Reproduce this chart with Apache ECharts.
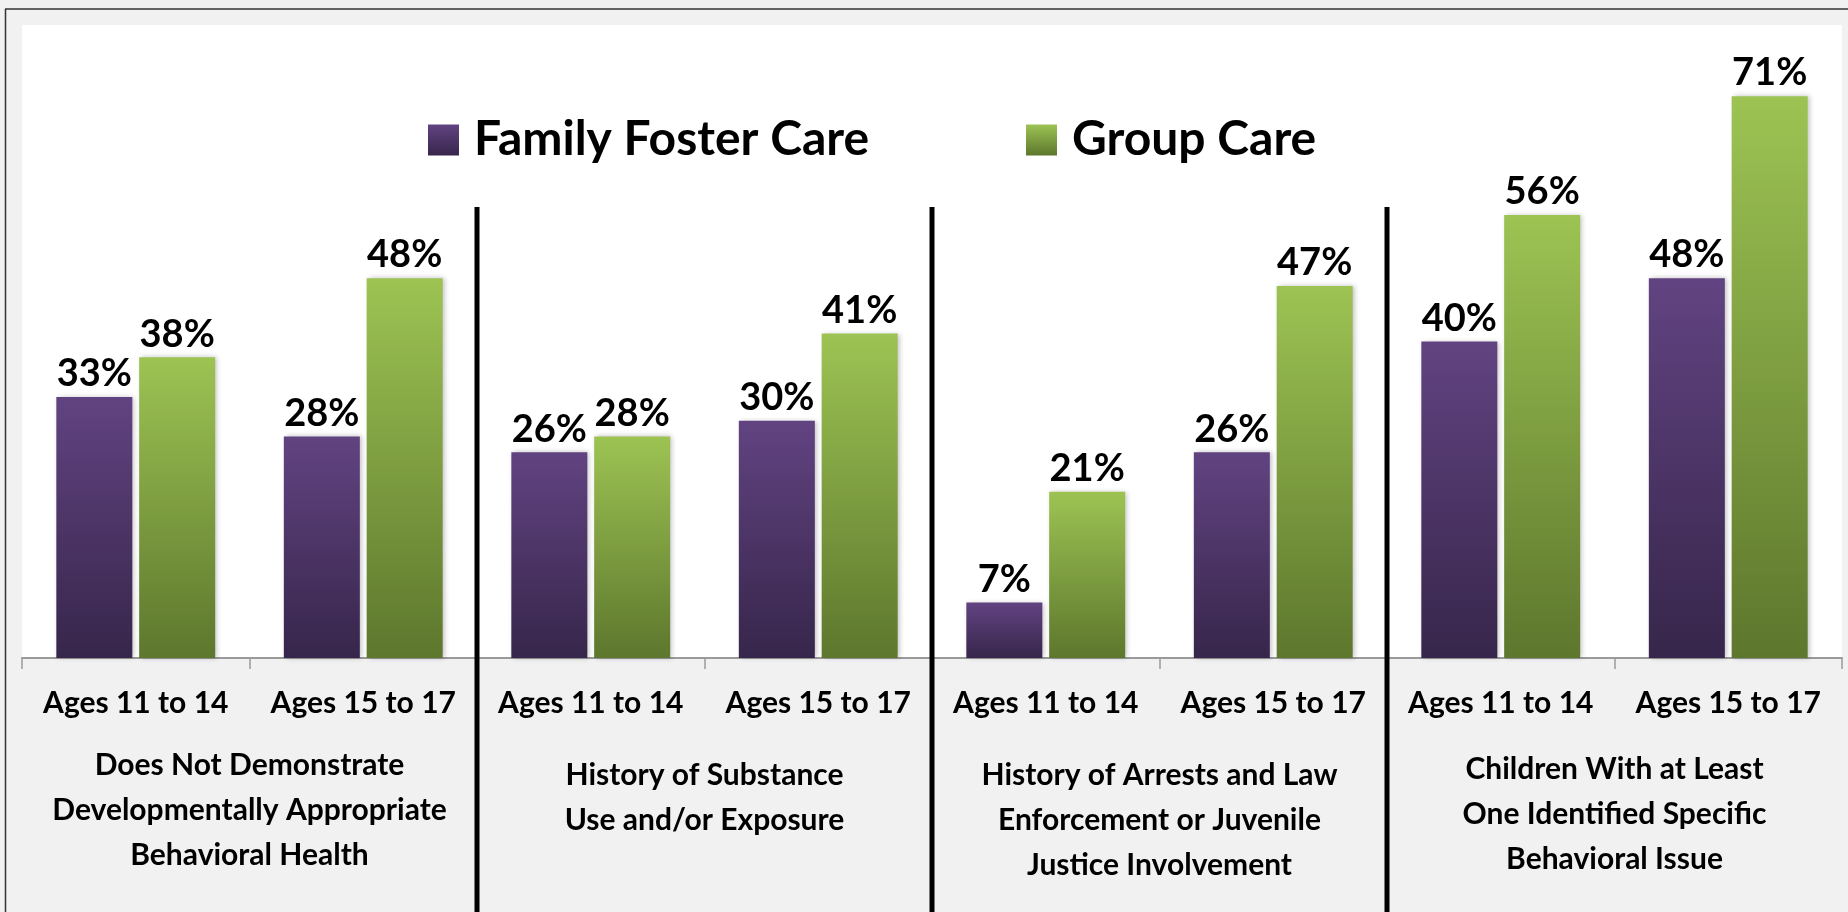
<!DOCTYPE html>
<html><head><meta charset="utf-8">
<script src="https://cdn.jsdelivr.net/npm/echarts@6/dist/echarts.min.js"></script>
<style>html,body{margin:0;padding:0;background:#f1f1f1;} #c{width:1848px;height:912px;}</style>
</head><body><div id="c"></div>
<script>
const ageCategories = ['Ages 11 to 14','Ages 15 to 17','Ages 11 to 14','Ages 15 to 17','Ages 11 to 14','Ages 15 to 17','Ages 11 to 14','Ages 15 to 17'];
const groupLabels = [
  'Does Not Demonstrate\nDevelopmentally Appropriate\nBehavioral Health',
  'History of Substance\nUse and/or Exposure',
  'History of Arrests and Law\nEnforcement or Juvenile\nJustice Involvement',
  'Children With at Least\nOne Identified Specific\nBehavioral Issue'
];
const familyFosterCare = [33, 28, 26, 30, 7, 26, 40, 48];
const groupCare = [38, 48, 28, 41, 21, 47, 56, 71];
const seriesNames = ['Family Foster Care', 'Group Care'];
const separatorPositions = [2, 4, 6];

const FONT = 'Lato';
const purple = new echarts.graphic.LinearGradient(0,0,0,1,[{offset:0,color:'#614381'},{offset:1,color:'#37264b'}]);
const green = new echarts.graphic.LinearGradient(0,0,0,1,[{offset:0,color:'#9dc353'},{offset:1,color:'#5d772d'}]);
const groupPad = [0, 10, 10, 4];

const chart = echarts.init(document.getElementById('c'));
const labelStyle = {show:true, position:'top', distance:4, color:'#000', fontFamily:FONT, fontWeight:'bold', fontSize:38, formatter:'{c}%'};
const shadow = {shadowBlur:5, shadowColor:'rgba(0,0,0,0.25)', shadowOffsetX:2, shadowOffsetY:0};
const legendText = {fontFamily:FONT, fontWeight:'bold', fontSize:48, lineHeight:56, color:'#000', padding:[0,0,0,10]};
chart.setOption({
  backgroundColor:'#f1f1f1',
  animation:false,
  grid:{left:22, right:6, top:25, bottom:254, show:true, backgroundColor:'#ffffff', borderWidth:0},
  legend:[
    {data:[seriesNames[0]], left:423, top:107, itemWidth:31, itemHeight:31, icon:'rect', textStyle:legendText},
    {data:[seriesNames[1]], left:1021, top:107, itemWidth:31, itemHeight:31, icon:'rect', textStyle:legendText}
  ],
  xAxis:[
    {type:'category', data:ageCategories, position:'bottom',
     axisLine:{lineStyle:{color:'#9a9a9a', width:2}},
     axisTick:{show:true, length:11, lineStyle:{color:'#9a9a9a', width:1.5}},
     axisLabel:{interval:0, margin:30, color:'#000', fontFamily:FONT, fontWeight:'bold', fontSize:30}},
    {type:'category', data:groupLabels.map((g,i)=>({value:g, textStyle:{padding:[groupPad[i],0,0,0]}})), position:'bottom',
     axisLine:{show:false}, axisTick:{show:false},
     axisLabel:{interval:0, margin:85, color:'#000', fontFamily:FONT, fontWeight:'bold', fontSize:30, lineHeight:45, align:'center'}},
    {type:'value', min:0, max:ageCategories.length, show:false}
  ],
  yAxis:{type:'value', min:0, max:80, show:false, splitLine:{show:false}},
  series:[
    {name:seriesNames[0], type:'bar', xAxisIndex:0, data:familyFosterCare, barWidth:76, barGap:'9%',
     itemStyle:Object.assign({color:purple}, shadow), label:labelStyle},
    {name:seriesNames[1], type:'bar', xAxisIndex:0, data:groupCare, barWidth:76, barGap:'9%',
     itemStyle:Object.assign({color:green}, shadow), label:labelStyle},
    {type:'custom', xAxisIndex:2, yAxisIndex:0, clip:false, z:5,
     data:separatorPositions.map(v=>[v]),
     renderItem:function(params, api){
       const x = api.coord([api.value(0), 0])[0];
       const yTop = api.coord([0, 57])[1];
       return {type:'line', shape:{x1:x, y1:yTop, x2:x, y2:api.getHeight()}, style:{stroke:'#000', lineWidth:5}};
     }}
  ],
  graphic:[
    {type:'line', shape:{x1:5, y1:9, x2:1848, y2:9}, style:{stroke:'#333', lineWidth:1.5}, z:10},
    {type:'line', shape:{x1:5.5, y1:9, x2:5.5, y2:912}, style:{stroke:'#333', lineWidth:1.5}, z:10}
  ]
});
</script></body></html>
